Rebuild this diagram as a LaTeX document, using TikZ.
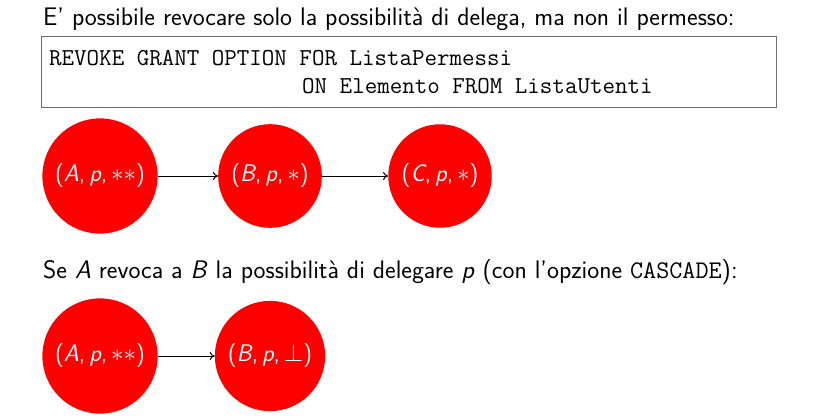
\documentclass[tikz,border=0pt]{standalone}
\usepackage{fontspec}
\setmainfont{Latin Modern Sans}
\setmonofont{Latin Modern Mono}
\usetikzlibrary{arrows.meta}
\definecolor{boxgray}{RGB}{110,110,110}
\tikzset{
  state/.style={circle, fill=red, draw=none, text=white, inner sep=9pt,
    font=\fontsize{24}{27}\selectfont},
  txt/.style={anchor=base west, inner sep=0pt, font=\fontsize{25.4}{28}\selectfont},
  code/.style={anchor=base west, inner sep=0pt, font=\fontsize{24.3}{28}\selectfont\ttfamily},
  link/.style={-{To[length=5pt,width=8pt]}, line width=1pt, black},
}
\newcommand{\mi}[1]{\textit{#1}}
\begin{document}
\begin{tikzpicture}[x=1pt,y=-1pt]
\useasboundingbox (0,0) rectangle (819,418);
\node[txt] (t1) at (43,25) {E' possibile revocare solo la possibilità di delega, ma non il permesso:};
\node[draw=boxgray, line width=1.3pt, minimum width=735pt, minimum height=71pt, anchor=north west, inner sep=0pt] (box) at (41,36) {};
\node[code] (c1) at (49,65) {REVOKE GRANT OPTION FOR ListaPermessi};
\node[code] (c2) at (302,93) {ON Elemento FROM ListaUtenti};
\node[state] (a1) at (100,176) {(\mi{A},\,\mi{p},\,$\ast\ast$)};
\node[state] (b1) at (270,176) {(\mi{B},\,\mi{p},\,$\ast$)};
\node[state] (c1n) at (440,176) {(\mi{C},\,\mi{p},\,$\ast$)};
\draw[link] (a1) -- (b1);
\draw[link] (b1) -- (c1n);
\node[txt] (t2) at (43,278) {Se \mi{A} revoca a \mi{B} la possibilità di delegare \mi{p} (con l'opzione {\ttfamily CASCADE}):};
\node[state] (a2) at (100,356) {(\mi{A},\,\mi{p},\,$\ast\ast$)};
\node[state] (b2) at (270,356) {(\mi{B},\,\mi{p},\,$\perp$)};
\draw[link] (a2) -- (b2);
\end{tikzpicture}
\end{document}
